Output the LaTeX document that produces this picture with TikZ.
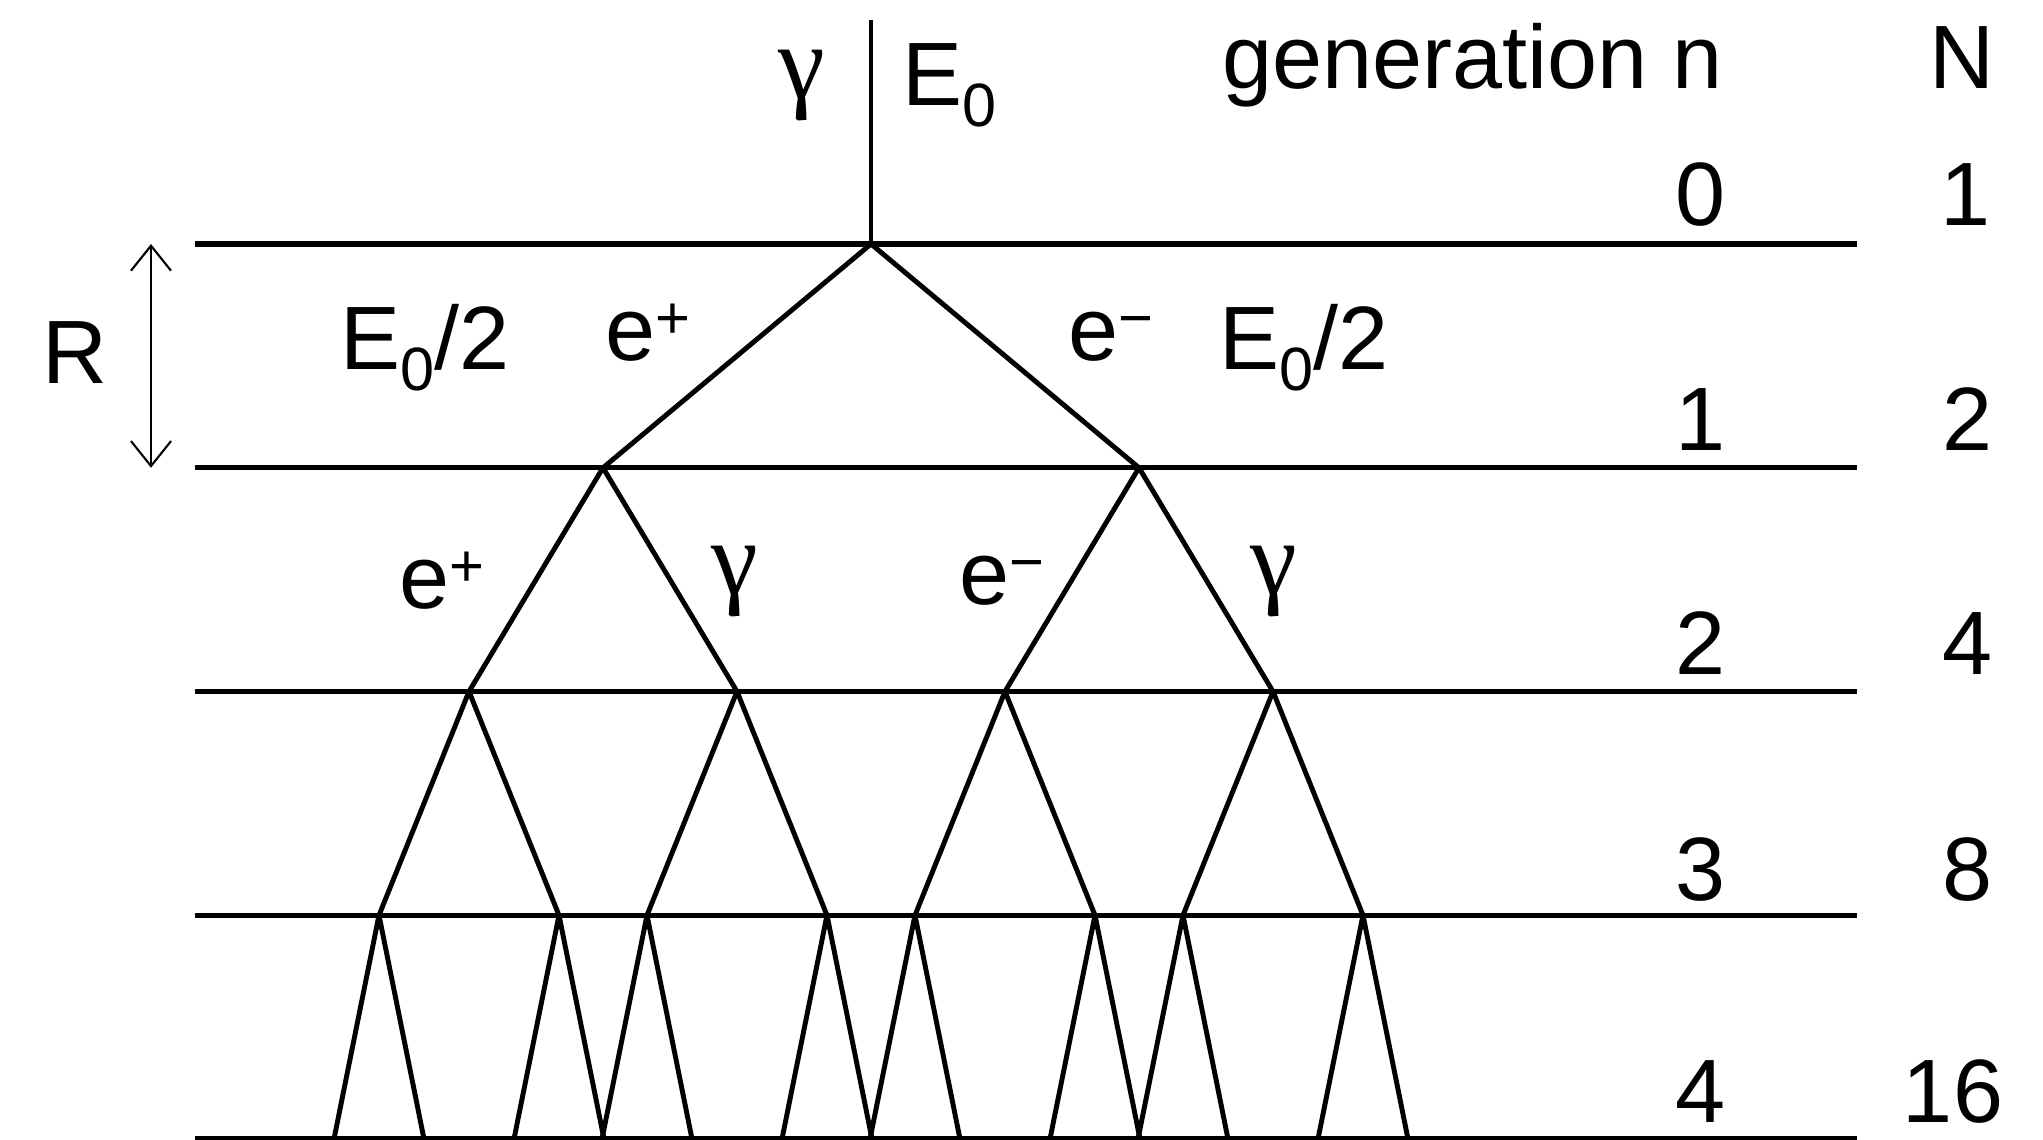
\documentclass[tikz,border=0pt]{standalone}
\usepackage{fontspec}
\setmainfont{Liberation Sans}
\newfontfamily\grkfont{Liberation Serif}
\usetikzlibrary{arrows.meta}
\newcommand{\lo}[1]{\raisebox{-0.24em}{\fontsize{17.4}{20}\selectfont #1}}
\newcommand{\hi}[1]{\raisebox{0.24em}{\fontsize{17}{18}\selectfont #1}}
\newcommand{\gam}{{\grkfont\fontsize{30}{32}\selectfont γ}}

\begin{document}
\begin{tikzpicture}[every node/.style={font={\fontsize{25.6}{30}\selectfont}, inner sep=0pt}, >={Straight Barb[length=2.5mm,width=4mm]}, layer/.style={line width=1.5pt}, trk/.style={line width=1.4pt}, lbl/.style={anchor=base west}, num/.style={anchor=base}]
	\useasboundingbox (0,0) rectangle (20.43,11.39);
	% radiation lengths
	\foreach \y in {8.95,6.7125,4.475,2.2375,0} {\draw[layer] (1.95,\y) -- (18.57,\y);}
	\coordinate (v-0-1) at (8.71,8.95);
	\coordinate (top) at (8.71,11.19);
	\draw[trk, line width=1.1pt] (top) -- (v-0-1);
	\foreach \k/\d in {1/2.68, 2/1.34, 3/0.9, 4/0.45} {
		\pgfmathtruncatemacro\pk{\k-1}
		\pgfmathtruncatemacro\np{2^(\k-1)}
		\foreach \i in {1,...,\np} {
			\pgfmathtruncatemacro\ca{2*\i-1}
			\pgfmathtruncatemacro\cb{2*\i}
			\path (v-\pk-\i) ++(-\d,-2.2375) coordinate (v-\k-\ca);
			\path (v-\pk-\i) ++(\d,-2.2375) coordinate (v-\k-\cb);
			\draw[trk] (v-\pk-\i) -- (v-\k-\ca);
			\draw[trk] (v-\pk-\i) -- (v-\k-\cb);
		}
	}
	\coordinate (ra) at (1.51,8.95); \coordinate (rb) at (1.51,6.7125);
	\draw[<->, line width=0.6pt] (ra) -- (rb);
	\node[num] (rl) at (0.75,7.56) {R};
	\node (g0) at (8.02,10.53) {\gam};
	\node[lbl] (e0) at (9.02,10.34) {E\lo{0}};
	\node[lbl] (gen) at (12.22,10.50) {generation n};
	\node[num] (nn) at (19.62,10.50) {N};
	\node[lbl] (ea) at (3.40,7.70) {E\lo{0}/2};
	\node[lbl] (pa) at (6.05,7.79) {e\hi{+}};
	\node[lbl] (ma) at (10.68,7.79) {e\hi{−}};
	\node[lbl] (eb) at (12.19,7.70) {E\lo{0}/2};
	\node[lbl] (pb) at (3.99,5.31) {e\hi{+}};
	\node (g1) at (7.35,5.57) {\gam};
	\node[lbl] (mb) at (9.59,5.35) {e\hi{−}};
	\node (g2) at (12.74,5.57) {\gam};
	\foreach \n/\y in {0/9.14, 1/6.89, 2/4.65, 3/2.39, 4/0.17} {\node[num] (n\n) at (17.01,\y) {\n};}
	\foreach \n/\m/\x/\y in {0/1/19.66/9.14, 1/2/19.68/6.89, 2/4/19.68/4.65, 3/8/19.68/2.39, 4/16/19.53/0.17} {\node[num] (c\n) at (\x,\y) {\m};}
\end{tikzpicture}
\end{document}
